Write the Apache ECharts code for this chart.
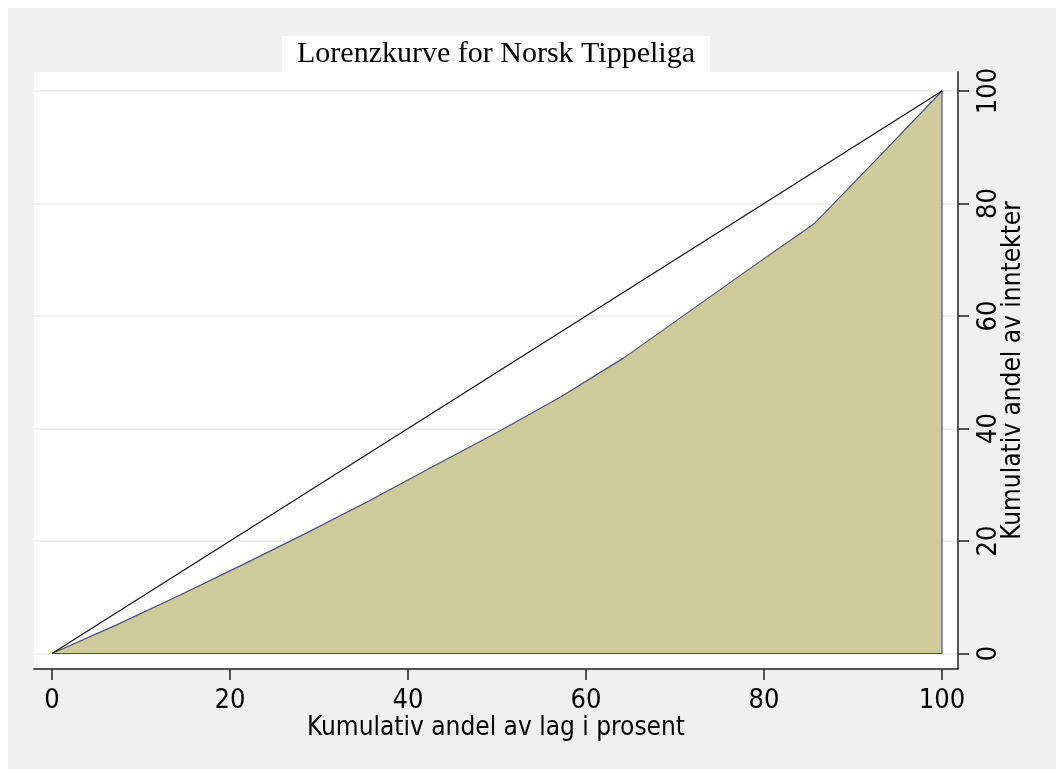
<!DOCTYPE html>
<html>
<head>
<meta charset="utf-8">
<script src="https://cdn.jsdelivr.net/npm/echarts@6/dist/echarts.min.js"></script>
<style>
  html, body { margin: 0; padding: 0; background: #f0f0f0; width: 100%; height: 100%; overflow: hidden; }
  #hvitTopp { position: absolute; left: 0; top: 0; width: 100%; height: 8px; background: #ffffff; }
  #hvitVenstre { position: absolute; left: 0; top: 0; width: 8px; height: 100%; background: #ffffff; }
  #chart { position: absolute; left: 8px; top: 8px; width: 1048px; height: 761px; }
</style>
</head>
<body>
<div id="hvitTopp"></div>
<div id="hvitVenstre"></div>
<div id="chart"></div>
<script>
// kumulativ andel av lag (x) og av inntekter (y), i prosent
var lagAndel = [0, 7.14, 14.29, 21.43, 28.57, 35.71, 42.86, 50, 57.14, 64.29, 71.43, 78.57, 85.71, 92.86, 100];
var inntektAndel = [0, 5.0, 10.3, 15.8, 21.4, 27.2, 33.3, 39.3, 45.6, 52.6, 60.6, 68.6, 76.5, 88.2, 100];
// likhetslinja
var likhetX = [0, 100];
var likhetY = [0, 100];
// kant langs høyre side og bunnen av arealet
var kantX = [100, 100, 0];
var kantY = [100, 0, 0];
var tickVerdier = [0, 20, 40, 60, 80, 100];

function par (xs, ys) {
  var out = [];
  for (var i = 0; i < xs.length; i++) out.push([xs[i], ys[i]]);
  return out;
}

var smalFont = '"Liberation Sans Narrow", "Arial Narrow", "DejaVu Sans Condensed", sans-serif';

var myChart = echarts.init(document.getElementById('chart'));
myChart.setOption({
  backgroundColor: '#f0f0f0',
  animation: false,
  title: {
    text: 'Lorenzkurve for Norsk Tippeliga',
    left: 274,
    top: 28,
    backgroundColor: '#ffffff',
    padding: [3, 15, 3, 15],
    textStyle: {
      fontFamily: '"Liberation Serif", "Times New Roman", serif',
      fontWeight: 'normal',
      fontSize: 30,
      lineHeight: 30,
      color: '#000000'
    }
  },
  grid: {
    left: 26,
    top: 64,
    right: 98,
    bottom: 100,
    show: true,
    backgroundColor: '#ffffff',
    borderWidth: 0
  },
  xAxis: {
    type: 'value',
    min: -2.02,
    max: 101.8,
    name: 'Kumulativ andel av lag i prosent',
    nameLocation: 'middle',
    nameGap: 46,
    nameMoveOverlap: false,
    nameTextStyle: { fontFamily: smalFont, fontSize: 26, color: '#000' },
    axisLine: { show: true, onZero: false, lineStyle: { color: '#222', width: 1.5 } },
    axisTick: { show: true, length: 11, customValues: tickVerdier, lineStyle: { color: '#222', width: 1.5 } },
    axisLabel: { customValues: tickVerdier, margin: 18, fontFamily: smalFont, fontSize: 27, color: '#000' },
    splitLine: { show: false }
  },
  yAxis: {
    type: 'value',
    position: 'right',
    min: -2.756,
    max: 103.38,
    name: 'Kumulativ andel av inntekter',
    nameLocation: 'middle',
    nameRotate: 90,
    nameGap: 42,
    nameMoveOverlap: false,
    nameTextStyle: { fontFamily: smalFont, fontSize: 26, color: '#000' },
    axisLine: { show: true, onZero: false, lineStyle: { color: '#222', width: 1.5 } },
    axisTick: { show: true, length: 11, customValues: tickVerdier, lineStyle: { color: '#222', width: 1.5 } },
    axisLabel: { customValues: tickVerdier, rotate: 90, margin: 17, fontFamily: smalFont, fontSize: 27, color: '#000' },
    splitLine: { show: true, lineStyle: { color: '#ebebeb', width: 1.5 } }
  },
  series: [
    {
      name: 'Lorenz',
      type: 'line',
      symbol: 'none',
      data: par(lagAndel, inntektAndel),
      lineStyle: { color: '#4c4c8c', width: 1.2 },
      areaStyle: { color: '#cccb99', opacity: 1 }
    },
    {
      name: 'kant',
      type: 'line',
      symbol: 'none',
      data: par(kantX, kantY),
      lineStyle: { color: '#4c4c8c', width: 1.2 }
    },
    {
      name: 'likhet',
      type: 'line',
      symbol: 'none',
      data: par(likhetX, likhetY),
      lineStyle: { color: '#111111', width: 1.2 }
    }
  ]
});
</script>
</body>
</html>
